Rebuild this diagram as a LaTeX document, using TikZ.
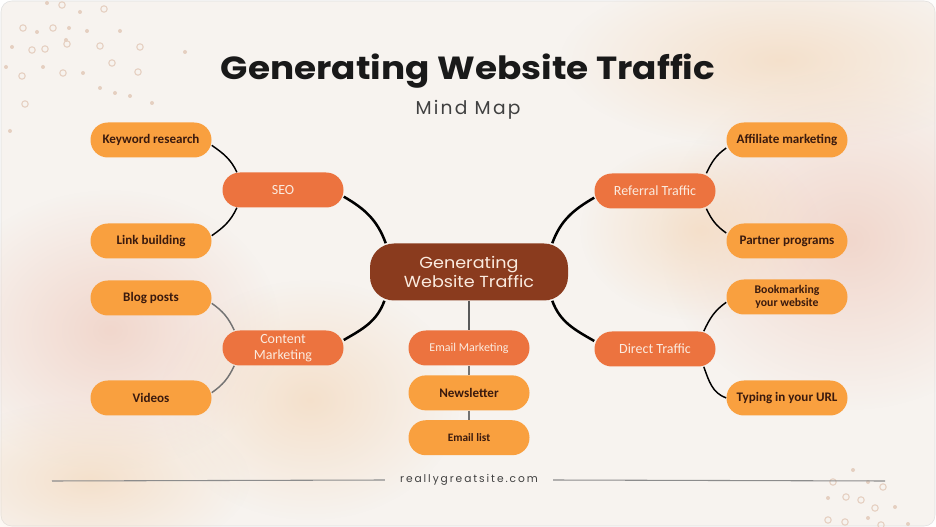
\documentclass[tikz,border=0pt]{standalone}
\usepackage{fontspec}
\setmainfont{Carlito}
\newfontfamily\titlefont{Poppins}
\usetikzlibrary{positioning,fadings}

\definecolor{fondo}{HTML}{F7F3EF}
\definecolor{hojac}{HTML}{F9A03F}
\definecolor{ramac}{HTML}{EC733F}
\definecolor{centroc}{HTML}{8A3B1E}
\definecolor{textoc}{HTML}{3A1A0E}
\definecolor{crema}{HTML}{FBEBDF}
\definecolor{puntoc}{HTML}{E5CFC0}
\definecolor{rosa}{HTML}{F0D0C4}
\definecolor{melocoton}{HTML}{F4DCC3}

\tikzfading[name=mancha, inner color=transparent!20, outer color=transparent!100]
\pgfdeclarelayer{fondo}
\pgfdeclarelayer{lineas}
\pgfsetlayers{fondo,lineas,main}

\begin{document}
\begin{tikzpicture}[
  x=0.75pt,y=-0.75pt,
  centro/.style={draw=none,fill=centroc,rounded corners=18pt,minimum width=148.5pt,minimum height=42.75pt,
    align=center,text=crema,font=\titlefont\addfontfeatures{FakeStretch=1.1}\fontsize{12}{14}\selectfont},
  rama/.style={fill=ramac,rounded corners=13pt,minimum width=90.75pt,minimum height=26.25pt,
    align=center,text=crema,font=\fontsize{10.5}{12}\selectfont,inner sep=1pt},
  hoja/.style={fill=hojac,rounded corners=13pt,minimum width=90.75pt,minimum height=26.25pt,
    align=center,text=textoc,font=\bfseries\fontsize{9.8}{10.5}\selectfont,inner sep=1pt},
  enlace/.style={line width=1.9pt,black},
  fino/.style={line width=1.1pt,black},
  gris/.style={line width=1.1pt,black!55},
  punto/.style={puntoc,line width=0.8pt}
  ]

  \useasboundingbox (0,0) rectangle (936,527);

  \begin{pgfonlayer}{fondo}
    \fill[white] (0,0) rectangle (936,527);
    \fill[fondo,draw=black!12,rounded corners=8pt] (1,1) rectangle (935,526);
    \fill[rosa,path fading=mancha] (110,330) ellipse (170 and 140);
    \fill[melocoton,path fading=mancha] (310,400) ellipse (150 and 120);
    \fill[melocoton,path fading=mancha] (90,480) ellipse (160 and 80);
    \fill[rosa,path fading=mancha] (850,240) ellipse (190 and 170);
    \fill[melocoton,path fading=mancha] (780,60) ellipse (220 and 90);
    \fill[melocoton,path fading=mancha] (700,230) ellipse (120 and 90);
    % puntos
    \foreach \x/\y in {23/28,53/28,45/49,32/50,67/44,100/46,140/47,22/76,63/73,112/63,138/72,25/104,104/9,62/5,
                       833/482,883/487,846/497,861/500,875/508,828/520,845/522,881/525}
      \draw[punto] (\x,\y) circle (3.2);
    \foreach \x/\y in {47/3,80/12,37/32,69/28,87/31,66/40,120/31,12/47,185/52,6/67,43/67,83/73,100/88,115/93,
                       130/96,152/103,10/131,853/470,868/482,895/507,868/518,908/524,828/498}
      \fill[puntoc] (\x,\y) circle (2);
  \end{pgfonlayer}

  \node[font=\titlefont\bfseries\addfontfeatures{FakeStretch=1.12}\fontsize{24}{28}\selectfont,text=black!90] (titulo) at (468,71) {Generating Website Traffic};
  \node[font=\titlefont\addfontfeatures{LetterSpace=12}\fontsize{14}{16}\selectfont,text=black!75] (sub) at (468,110) {Mind Map};

  \node[centro] (gwt) at (469,272) {Generating\\Website Traffic};

  \node[rama] (seo) at (283,190) {SEO};
  \node[rama] (cm) at (283,348) {Content\\Marketing};
  \node[rama] (rt) at (655,191) {Referral Traffic};
  \node[rama] (dt) at (655,349) {Direct Traffic};
  \node[rama,font=\fontsize{9}{10}\selectfont] (em) at (469,348) {Email Marketing};
  \node[hoja,below=7pt of em] (nl) {Newsletter};
  \node[hoja,below=7pt of nl,font=\bfseries\fontsize{8.5}{10}\selectfont] (el) {Email list};

  \node[hoja] (kr) at (151,140) {Keyword research};
  \node[hoja] (lb) at (151,241) {Link building};
  \node[hoja] (bp) at (151,298) {Blog posts};
  \node[hoja] (vd) at (151,398) {Videos};
  \node[hoja] (am) at (787,140) {Affiliate marketing};
  \node[hoja] (pp) at (787,241) {Partner programs};
  \node[hoja,font=\bfseries\fontsize{8.8}{9.5}\selectfont] (bw) at (787,297) {Bookmarking\\your website};
  \node[hoja] (ty) at (787,398) {Typing in your URL};

  \node[font=\titlefont\addfontfeatures{LetterSpace=18}\fontsize{8}{10}\selectfont,text=black!75] (web) at (469,480) {reallygreatsite.com};
  \coordinate (pie1) at (52,481);
  \coordinate (pie2) at (885,481);

  \begin{pgfonlayer}{lineas}
    \draw[enlace] ([yshift=-5pt]seo.east) to[out=-30,in=110] ([xshift=12pt]gwt.north west);
    \draw[enlace] ([yshift=6pt]cm.east) to[out=30,in=-110] ([xshift=11pt]gwt.south west);
    \draw[enlace] ([yshift=-5pt]rt.west) to[out=210,in=70] ([xshift=-12pt]gwt.north east);
    \draw[enlace] ([yshift=6pt]dt.west) to[out=150,in=-70] ([xshift=-12pt]gwt.south east);

    \draw[fino] ([yshift=-4pt]kr.east) to[out=-35,in=115] ([xshift=11pt]seo.north west);
    \draw[fino] ([yshift=4pt]lb.east) to[out=35,in=-115] ([xshift=11pt]seo.south west);
    \draw[gris] ([yshift=-4pt]bp.east) to[out=-35,in=115] ([xshift=9pt]cm.north west);
    \draw[gris] ([yshift=4pt]vd.east) to[out=35,in=-115] ([xshift=9pt]cm.south west);
    \draw[fino] ([yshift=-6pt]am.west) to[out=215,in=65] ([xshift=-7pt]rt.north east);
    \draw[fino] ([yshift=6pt]pp.west) to[out=145,in=-65] ([xshift=-7pt]rt.south east);
    \draw[fino] ([yshift=-4pt]bw.west) to[out=215,in=65] ([xshift=-9pt]dt.north east);
    \draw[fino] (ty.west) to[out=160,in=-70] ([xshift=-9pt]dt.south east);

    \draw[gris,line width=1.4pt,black!65] (gwt) -- (em);
    \draw[gris,line width=0.8pt] (em) -- (nl) (nl) -- (el);

    \draw[black!45,line width=0.8pt] (pie1) -- ([xshift=-8pt]web.west);
    \draw[black!45,line width=0.8pt] ([xshift=8pt]web.east) -- (pie2);
  \end{pgfonlayer}

\end{tikzpicture}
\end{document}
